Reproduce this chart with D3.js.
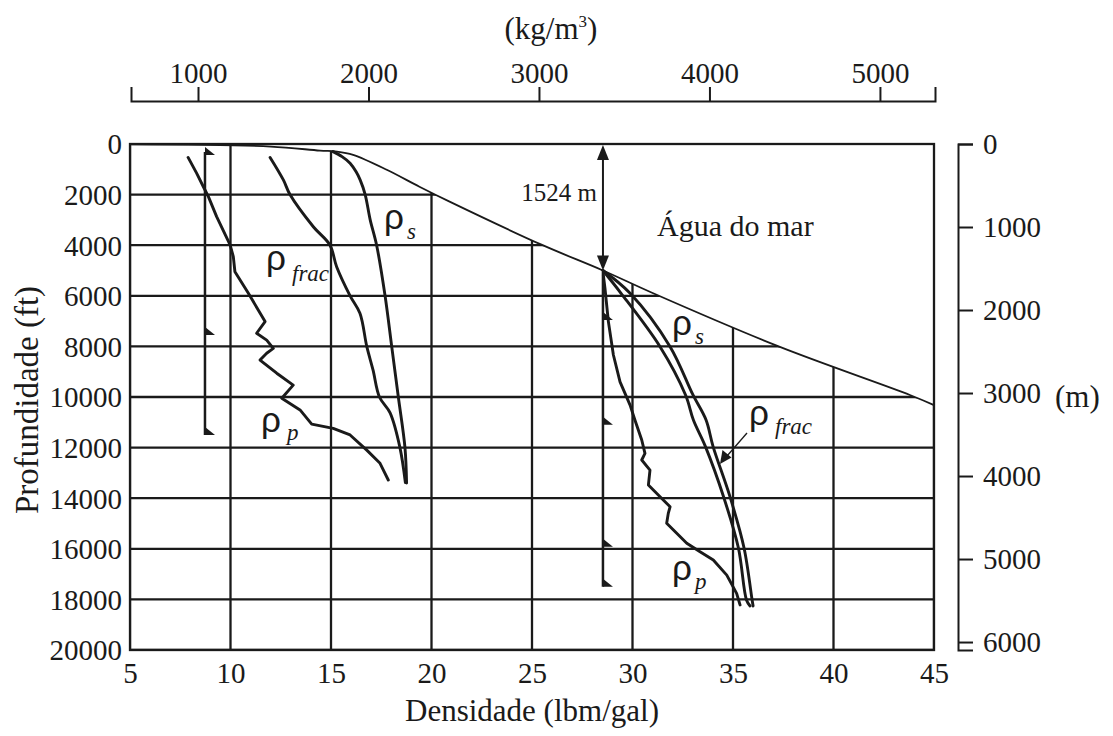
<!DOCTYPE html>
<html>
<head>
<meta charset="utf-8">
<script src="https://cdn.jsdelivr.net/npm/d3@7"></script>
<style>
  html, body { margin: 0; padding: 0; background: #fff; }
  svg { display: block; }
  text { font-family: "Liberation Serif", "Times New Roman", "DejaVu Serif", serif; fill: #1a1a1a; }
  .rho { font-family: "Liberation Sans", Arial, sans-serif; }
  .sub { font-style: italic; }
</style>
</head>
<body>
<svg id="chart" width="1113" height="736"></svg>
<script>
// ---- Eixos ----
const densTicks = [5, 10, 15, 20, 25, 30, 35, 40, 45];                 // lbm/gal
const profTicks = [0, 2000, 4000, 6000, 8000, 10000, 12000, 14000, 16000, 18000, 20000]; // ft
const kgTicks = [1000, 2000, 3000, 4000, 5000];                        // kg/m3
const mTicks = [0, 1000, 2000, 3000, 4000, 5000, 6000];                // m

// ---- Lâmina d'água: 1524 m = 5000 ft ----
const laminaProf = 5000;
const laminaDens = 28.53;

// ---- Linha da água do mar ----
const aguaProf = [0, 100, 260, 300, 430, 1030, 1690, 2280, 3990, 5000, 5890, 8010, 9920, 10320];
const aguaDens = [5, 12.0, 14.45, 15.3, 16.1, 17.8, 19.4, 20.9, 25.5, 28.53, 31.0, 37.3, 43.8, 45];

// ---- Poço em terra ----
const rhoSTerraProf = [300, 500, 760, 1100, 1420, 2000, 3000, 4000, 6000, 8000, 10000, 12000, 13400];
const rhoSTerraDens = [15.1, 15.55, 15.95, 16.25, 16.45, 16.7, 16.95, 17.27, 17.69, 18.02, 18.35, 18.68, 18.76];

const rhoFracTerraProf = [530, 1420, 2000, 3270, 4000, 4850, 6000, 6690, 8000, 8930, 10000, 10630, 12000, 13380];
const rhoFracTerraDens = [11.97, 12.63, 12.96, 14.12, 14.95, 15.28, 15.95, 16.44, 16.78, 17.09, 17.41, 17.94, 18.43, 18.7];

const rhoPTerraProf = [530, 1160, 1690, 2080, 2870, 3990, 4450, 5050, 5900, 6560, 7020, 7480, 7750, 8080, 8270, 8540, 9060, 9530, 10050, 10510, 11070, 11240, 11500, 12100, 12620, 13280];
const rhoPTerraDens = [7.89, 8.32, 8.65, 8.90, 9.31, 9.98, 10.14, 10.22, 10.89, 11.38, 11.72, 11.30, 11.80, 12.13, 11.80, 11.47, 12.30, 13.12, 12.55, 13.46, 14.04, 15.11, 15.95, 16.78, 17.44, 17.85];

const sapataTerraDens = 8.73;
const sapataTerraTopo = 320;
const sapatasTerraProf = [430, 7550, 11500];

// ---- Poço no mar ----
const rhoSMarProf = [5000, 5900, 8010, 9920, 10910, 11960, 13940, 15970, 18020, 18260];
const rhoSMarDens = [28.53, 29.88, 31.87, 33.01, 33.66, 34.01, 34.85, 35.55, 35.95, 36.0];

const rhoFracMarProf = [5000, 5900, 8010, 9920, 10910, 11960, 13940, 15970, 18020, 18260];
const rhoFracMarDens = [28.53, 29.43, 31.37, 32.64, 33.03, 33.63, 34.53, 35.27, 35.67, 35.85];

const rhoPMarProf = [5180, 5700, 7020, 8340, 9400, 10320, 10910, 11700, 12230, 12490, 12890, 13480, 13940, 14340, 14600, 14990, 15780, 16120, 16440, 17040, 17760, 18220];
const rhoPMarDens = [28.55, 28.63, 28.80, 29.05, 29.38, 29.88, 30.12, 30.46, 30.62, 30.46, 30.87, 30.79, 31.37, 31.87, 31.78, 31.70, 32.70, 33.36, 34.02, 34.69, 35.18, 35.35];

const sapataMarDens = 28.53;
const sapataMarTopo = 5050;
const sapatasMarProf = [6960, 11100, 15920, 17500];

// ---- Desenho ----
const svg = d3.select("#chart");
const ink = "#1a1a1a";

const x = d3.scaleLinear().domain([5, 45]).range([130, 934]);
const y = d3.scaleLinear().domain([0, 20000]).range([144, 650]);
const xKg = d3.scaleLinear().domain([607, 5323]).range([131, 935]);
const yM = d3.scaleLinear().domain([0, 20000 * 0.3048]).range([144, 650]);

const pts = (prof, dens) => prof.map((p, i) => ({ p, d: dens[i] }));

const suave = d3.line().x(v => x(v.d)).y(v => y(v.p)).curve(d3.curveCatmullRom.alpha(0.5));
const reta = d3.line().x(v => x(v.d)).y(v => y(v.p));

const agua = pts(aguaProf, aguaDens);

// Região abaixo da linha da água: a grade só aparece ali
svg.append("clipPath").attr("id", "abaixoAgua")
  .append("path")
  .attr("d", d3.area().x(v => x(v.d)).y0(y(20000)).y1(v => y(v.p))
    .curve(d3.curveCatmullRom.alpha(0.5))(agua));

const grade = svg.append("g").attr("clip-path", "url(#abaixoAgua)")
  .attr("stroke", ink).attr("stroke-width", 2.3);
grade.selectAll("line.v").data(densTicks).join("line").attr("class", "v")
  .attr("x1", d => x(d)).attr("x2", d => x(d)).attr("y1", y(0)).attr("y2", y(20000));
grade.selectAll("line.h").data(profTicks).join("line").attr("class", "h")
  .attr("x1", x(5)).attr("x2", x(45)).attr("y1", d => y(d)).attr("y2", d => y(d));

// Moldura
svg.append("rect")
  .attr("x", x(5)).attr("y", y(0))
  .attr("width", x(45) - x(5)).attr("height", y(20000) - y(0))
  .attr("fill", "none").attr("stroke", ink).attr("stroke-width", 2.3);

// Linha da água do mar
svg.append("path").attr("d", suave(agua))
  .attr("fill", "none").attr("stroke", ink).attr("stroke-width", 1.8);

// Curvas
const curvas = [
  { prof: rhoSTerraProf, dens: rhoSTerraDens, gen: suave },
  { prof: rhoFracTerraProf, dens: rhoFracTerraDens, gen: suave },
  { prof: rhoPTerraProf, dens: rhoPTerraDens, gen: reta },
  { prof: rhoSMarProf, dens: rhoSMarDens, gen: suave },
  { prof: rhoFracMarProf, dens: rhoFracMarDens, gen: suave },
  { prof: rhoPMarProf, dens: rhoPMarDens, gen: reta }
];
svg.append("g").selectAll("path").data(curvas).join("path")
  .attr("d", c => c.gen(pts(c.prof, c.dens)))
  .attr("fill", "none").attr("stroke", ink).attr("stroke-width", 2.9)
  .attr("stroke-linejoin", "round").attr("stroke-linecap", "round");

// Revestimentos e sapatas
function revestimento(dens, topo, sapatas) {
  const g = svg.append("g");
  g.append("line")
    .attr("x1", x(dens)).attr("x2", x(dens))
    .attr("y1", y(topo)).attr("y2", y(d3.max(sapatas)))
    .attr("stroke", ink).attr("stroke-width", 2.5);
  g.selectAll("path").data(sapatas).join("path")
    .attr("d", p => {
      const cx = x(dens), cy = y(p);
      return `M${cx},${cy - 8}L${cx + 10},${cy}L${cx},${cy}Z`;
    })
    .attr("fill", ink);
}
revestimento(sapataTerraDens, sapataTerraTopo, sapatasTerraProf);
revestimento(sapataMarDens, sapataMarTopo, sapatasMarProf);

// Seta da lâmina d'água
{
  const ax = x(laminaDens), y0 = y(0), y1 = y(laminaProf);
  svg.append("line").attr("x1", ax).attr("x2", ax).attr("y1", y0 + 8).attr("y2", y1 - 8)
    .attr("stroke", ink).attr("stroke-width", 2);
  svg.append("path").attr("d", `M${ax},${y0 + 1}L${ax - 6},${y0 + 16}L${ax + 6},${y0 + 16}Z`).attr("fill", ink);
  svg.append("path").attr("d", `M${ax},${y1}L${ax - 6},${y1 - 15}L${ax + 6},${y1 - 15}Z`).attr("fill", ink);
  svg.append("text").attr("x", ax - 6).attr("y", 201).attr("text-anchor", "end")
    .attr("font-size", 25).text("1524 m");
}
svg.append("text").attr("x", 657).attr("y", 236).attr("font-size", 30).text("Água do mar");

// Rótulos das curvas
function rotulo(xr, yb, sub, xs, ys) {
  svg.append("text").attr("class", "rho").attr("x", xr).attr("y", yb).attr("font-size", 35).text("ρ");
  svg.append("text").attr("class", "sub").attr("x", xs).attr("y", ys).attr("font-size", 23).text(sub);
}
rotulo(384, 229, "s", 407, 239);
rotulo(266, 270, "frac", 292, 281);
rotulo(261, 432, "p", 287, 440);
rotulo(672, 335, "s", 695, 344);
rotulo(749, 425, "frac", 775, 434);
rotulo(672, 580, "p", 695, 589);

// Seta do ρfrac no mar
svg.append("line").attr("x1", 747).attr("y1", 433).attr("x2", 727).attr("y2", 456)
  .attr("stroke", ink).attr("stroke-width", 1.3);
svg.append("path").attr("d", "M720,464L722.5,450L731.5,457.5Z").attr("fill", ink);

// Eixo esquerdo (ft)
const eixoEsq = svg.append("g").attr("transform", `translate(${x(5)},0)`)
  .call(d3.axisLeft(y).tickValues(profTicks).tickSize(0).tickPadding(8).tickFormat(d3.format("d")));
eixoEsq.select(".domain").remove();
eixoEsq.selectAll("text").attr("font-size", 29).attr("fill", ink).attr("dy", "0.34em");

// Eixo inferior (lbm/gal)
const eixoInf = svg.append("g").attr("transform", `translate(0,${y(20000)})`)
  .call(d3.axisBottom(x).tickValues(densTicks).tickSize(0).tickPadding(12).tickFormat(d3.format("d")));
eixoInf.select(".domain").remove();
eixoInf.selectAll("text").attr("font-size", 29).attr("fill", ink);

// Eixo superior (kg/m3)
const eixoSup = svg.append("g").attr("transform", "translate(0,101)")
  .call(d3.axisTop(xKg).tickValues(kgTicks).tickSize(14).tickSizeOuter(14).tickPadding(4).tickFormat(d3.format("d")));
eixoSup.select(".domain").attr("stroke", ink).attr("stroke-width", 2);
eixoSup.selectAll(".tick line").attr("stroke", ink).attr("stroke-width", 2);
eixoSup.selectAll("text").attr("font-size", 29).attr("fill", ink);

// Eixo direito (m)
const eixoDir = svg.append("g").attr("transform", "translate(958,0)")
  .call(d3.axisRight(yM).tickValues(mTicks).tickSize(15).tickSizeOuter(15).tickPadding(10).tickFormat(d3.format("d")));
eixoDir.select(".domain").attr("stroke", ink).attr("stroke-width", 2);
eixoDir.selectAll(".tick line").attr("stroke", ink).attr("stroke-width", 2);
eixoDir.selectAll("text").attr("font-size", 29).attr("fill", ink).attr("dy", "0.32em");

// Títulos dos eixos
const kgTitulo = svg.append("text").attr("x", 551).attr("y", 39).attr("text-anchor", "middle").attr("font-size", 31);
kgTitulo.append("tspan").text("(kg/m");
kgTitulo.append("tspan").attr("font-size", 17).attr("dy", -12).text("3");
kgTitulo.append("tspan").attr("dy", 12).text(")");

svg.append("text").attr("x", 1055).attr("y", 407).attr("font-size", 31).text("(m)");

svg.append("text").attr("transform", "translate(38,400) rotate(-90)")
  .attr("text-anchor", "middle").attr("font-size", 33).text("Profundidade (ft)");

svg.append("text").attr("x", 532).attr("y", 721).attr("text-anchor", "middle")
  .attr("font-size", 31).text("Densidade (lbm/gal)");
</script>
</body>
</html>
